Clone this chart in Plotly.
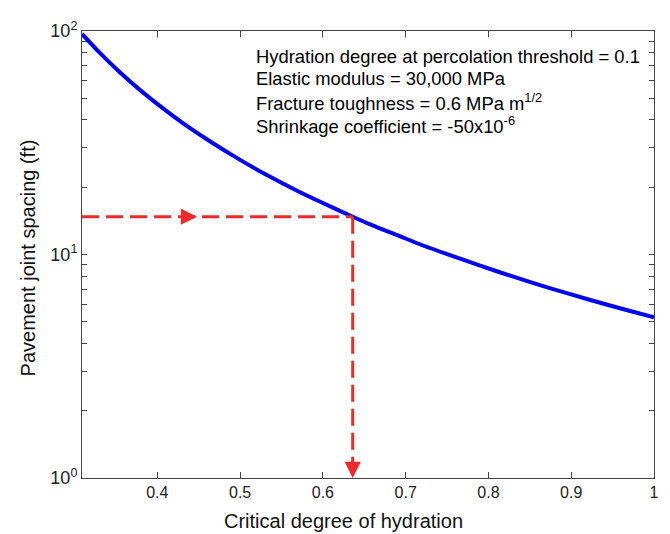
import plotly.graph_objects as go

# Data
hydration = [0.309, 0.33, 0.355, 0.38, 0.403, 0.43, 0.463, 0.50, 0.534, 0.570, 0.60,
             0.636, 0.66, 0.690, 0.72, 0.750, 0.79, 0.830, 0.875, 0.921, 0.96, 1.0]
spacing = [97.0, 80.2, 65.2, 54.1, 46.2, 38.9, 32.2, 26.5, 22.5, 19.2, 17.0,
           14.76, 13.5, 12.2, 11.0, 10.04, 8.91, 7.96, 7.06, 6.29, 5.73, 5.24]

critical_x = 0.636
critical_y = 14.76
x_min = 0.309
x_max = 1.0

x_ticks = [0.4, 0.5, 0.6, 0.7, 0.8, 0.9, 1.0]
x_tick_text = ["0.4", "0.5", "0.6", "0.7", "0.8", "0.9", "1"]
y_major = {1: "10<sup>0</sup>", 10: "10<sup>1</sup>", 100: "10<sup>2</sup>"}
y_ticks = [1, 2, 3, 4, 5, 6, 7, 8, 9, 10, 20, 30, 40, 50, 60, 70, 80, 90, 100]
y_tick_text = [y_major.get(v, "") for v in y_ticks]

notes = [
    "Hydration degree at percolation threshold = 0.1",
    "Elastic modulus = 30,000 MPa",
    "Fracture toughness = 0.6 MPa m<sup>1/2</sup>",
    "Shrinkage coefficient = -50x10<sup>-6</sup>",
]

FONT = "Liberation Sans, Arial, sans-serif"
RED = "#ee2a2a"

# page body adds an 8px margin; figure is sized/offset to compensate
OFF = 8
PL, PT, PR, PB = 82, 21, 659, 478  # plot area in screen pixels
PW, PH = PR - PL, PB - PT

fig = go.Figure()

fig.add_trace(go.Scatter(
    x=hydration, y=spacing, mode="lines",
    line=dict(color="#0000ff", width=4, shape="spline", smoothing=0.6),
    showlegend=False, hoverinfo="skip"))

fig.add_trace(go.Scatter(
    x=[x_min, critical_x], y=[critical_y, critical_y], mode="lines",
    line=dict(color=RED, width=3, dash="17px,7px"),
    showlegend=False, hoverinfo="skip"))
fig.add_trace(go.Scatter(
    x=[critical_x, critical_x], y=[critical_y, 1.0], mode="lines",
    line=dict(color=RED, width=3, dash="17px,7px"),
    showlegend=False, hoverinfo="skip"))

annotations = []
annotations.append(dict(x=0.448, y=1.169, xref="x", yref="y", ax=-14, ay=0,
                        showarrow=True, arrowhead=2, arrowsize=1.3, arrowwidth=2.5,
                        arrowcolor=RED, text=""))
annotations.append(dict(x=critical_x, y=0.0, xref="x", yref="y", ax=0, ay=-14,
                        showarrow=True, arrowhead=2, arrowsize=1.3, arrowwidth=2.5,
                        arrowcolor=RED, text=""))

note_y = [47, 70, 94, 117]
for txt, py in zip(notes, note_y):
    annotations.append(dict(
        x=(256 - PL) / PW, y=(PB - py) / PH, xref="paper", yref="paper",
        xanchor="left", yanchor="middle", showarrow=False, text=txt,
        font=dict(family=FONT, size=18.4, color="#000000")))

annotations.append(dict(x=(346 - PL) / PW, y=(PB - 522) / PH, xref="paper", yref="paper",
                        xanchor="center", yanchor="middle", showarrow=False,
                        text="Critical degree of hydration",
                        font=dict(family=FONT, size=20, color="#111111")))
annotations.append(dict(x=(27 - PL) / PW, y=(PB - 253) / PH, xref="paper", yref="paper",
                        xanchor="center", yanchor="middle", showarrow=False,
                        textangle=-90, text="Pavement joint spacing (ft)",
                        font=dict(family=FONT, size=20, color="#111111")))

fig.update_layout(
    width=670 - OFF, height=534 - OFF,
    margin=dict(l=PL - OFF, r=670 - PR, t=PT - OFF, b=534 - PB),
    paper_bgcolor="white", plot_bgcolor="white",
    font=dict(family=FONT, size=16, color="#222222"),
    annotations=annotations,
    showlegend=False,
)

fig.update_xaxes(
    range=[x_min, x_max], tickvals=x_ticks, ticktext=x_tick_text,
    ticks="inside", ticklen=6, tickcolor="#444444", tickwidth=1,
    showline=True, linecolor="#444444", linewidth=1, mirror="ticks",
    showgrid=False, zeroline=False,
    tickfont=dict(family=FONT, size=16, color="#222222"))

fig.update_yaxes(
    type="log", range=[0, 2], tickvals=y_ticks, ticktext=y_tick_text,
    ticks="inside", ticklen=5, tickcolor="#444444", tickwidth=1,
    showline=True, linecolor="#444444", linewidth=1, mirror="ticks",
    showgrid=False, zeroline=False,
    tickfont=dict(family=FONT, size=18, color="#222222"))

fig.write_html("out.html")
